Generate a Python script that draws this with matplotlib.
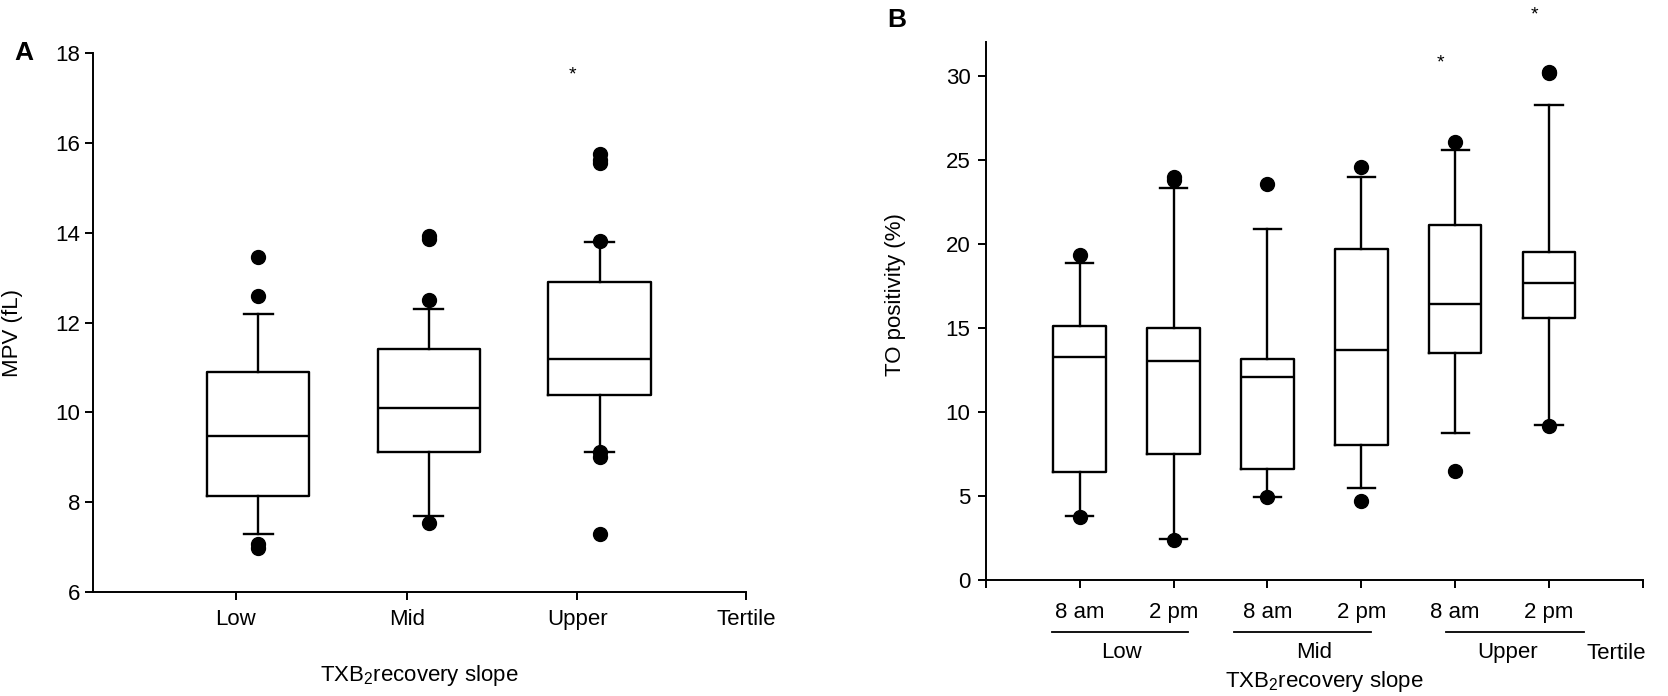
import matplotlib.pyplot as plt

plt.rcParams['font.family'] = ['Liberation Sans', 'DejaVu Sans']
plt.rcParams['font.size'] = 16

# Panel A: MPV (fL) by TXB2 recovery slope tertile
tertiles = ['Low', 'Mid', 'Upper']
mpv_q1 = [8.15, 9.12, 10.4]
mpv_med = [9.48, 10.1, 11.18]
mpv_q3 = [10.9, 11.42, 12.9]
mpv_whislo = [7.3, 7.7, 9.12]
mpv_whishi = [12.2, 12.3, 13.8]
mpv_fliers = [[13.45, 12.6, 7.08, 6.98],
              [13.92, 13.85, 12.5, 7.55],
              [15.75, 15.62, 15.55, 13.82, 9.12, 9.0, 7.3]]
mpv_star = 17.5

# Panel B: TO positivity (%) at 8 am / 2 pm per tertile
times = ['8 am', '2 pm', '8 am', '2 pm', '8 am', '2 pm']
to_q1 = [6.43, 7.5, 6.59, 8.04, 13.49, 15.55]
to_med = [13.25, 13.0, 12.07, 13.65, 16.42, 17.68]
to_q3 = [15.12, 15.0, 13.15, 19.68, 21.13, 19.53]
to_whislo = [3.8, 2.4, 4.95, 5.48, 8.72, 9.22]
to_whishi = [18.87, 23.3, 20.87, 23.95, 25.56, 28.22]
to_fliers = [[19.3, 3.75], [23.95, 23.8, 2.35], [23.53, 4.9],
             [24.56, 4.66], [26.06, 6.48], [30.22, 30.14, 9.14]]
to_star = [30.75, 33.6]  # upper tertile, 8 am and 2 pm


def make_stats(q1, med, q3, lo, hi, fl):
    return [dict(q1=a, med=b, q3=c, whislo=d, whishi=e, fliers=f)
            for a, b, c, d, e, f in zip(q1, med, q3, lo, hi, fl)]


line = dict(color='black', linewidth=1.7)
flier = dict(marker='o', markerfacecolor='black', markeredgecolor='black',
             markersize=10, linestyle='none')
xlab = 'TXB$_\\mathregular{2}$recovery slope'

fig = plt.figure(figsize=(16.68, 6.96), dpi=100)

# ---- A ----
axA = fig.add_axes([0.0555, 0.149, 0.392, 0.775])
posA = [1, 2, 3]
axA.bxp(make_stats(mpv_q1, mpv_med, mpv_q3, mpv_whislo, mpv_whishi, mpv_fliers),
        positions=posA, widths=0.6, capwidths=0.17, manage_ticks=False,
        boxprops=line, whiskerprops=line, capprops=line, medianprops=line,
        flierprops=flier)
axA.set_xlim(0.03, 3.86)
axA.set_ylim(6, 18)
axA.set_yticks(range(6, 19, 2))
axA.set_xticks([p - 0.13 for p in posA] + [3.86], tertiles + ['Tertile'])
axA.tick_params(axis='x', pad=6)
axA.tick_params(axis='y', pad=3)
axA.text(posA[2] - 0.16, mpv_star, '*', ha='center', va='center', fontsize=14)
axA.set_xlabel(xlab, labelpad=24)
axA.set_ylabel('MPV (fL)')
axA.yaxis.set_label_coords(-0.106, 0.48)
axA.text(-0.105, 1.0, 'A', transform=axA.transAxes, fontsize=19,
         fontweight='bold', ha='center', va='center')

# ---- B ----
axB = fig.add_axes([0.591, 0.167, 0.394, 0.7727])
posB = [1, 2, 3, 4, 5, 6]
axB.bxp(make_stats(to_q1, to_med, to_q3, to_whislo, to_whishi, to_fliers),
        positions=posB, widths=0.56, capwidths=0.29, manage_ticks=False,
        boxprops=line, whiskerprops=line, capprops=line, medianprops=line,
        flierprops=flier)
axB.set_xlim(0, 7)
axB.set_ylim(0, 32)
axB.set_yticks(range(0, 31, 5))
axB.set_xticks([0] + posB + [7], [''] + times + [''])
axB.tick_params(axis='x', pad=10)
axB.tick_params(axis='y', pad=5)
for p, y in zip(posB[4:], to_star):
    axB.text(p - 0.16, y, '*', ha='center', va='center', fontsize=14, clip_on=False)

tr = axB.get_xaxis_transform()
group_spans = [(0.7, 2.15), (2.64, 4.1), (4.9, 6.37)]
for i, ((x0, x1), name, off) in enumerate(zip(group_spans, tertiles, [-0.05, 0.0, 0.06])):
    axB.plot([x0, x1], [-0.097, -0.097], color='black', lw=1.3,
             transform=tr, clip_on=False)
    axB.text((posB[2 * i] + posB[2 * i + 1]) / 2 + off, -0.135, name,
             transform=tr, ha='center', va='center')
axB.text(6.72, -0.138, 'Tertile', transform=tr, ha='center', va='center')
axB.text(3.6, -0.19, xlab, transform=tr, ha='center', va='center')
axB.set_ylabel('TO positivity (%)')
axB.yaxis.set_label_coords(-0.122, 0.53)
axB.text(-0.135, 1.04, 'B', transform=axB.transAxes, fontsize=19,
         fontweight='bold', ha='center', va='center')

for ax in (axA, axB):
    ax.spines['top'].set_visible(False)
    ax.spines['right'].set_visible(False)
    ax.spines['left'].set_linewidth(1.4)
    ax.spines['bottom'].set_linewidth(1.4)
    ax.tick_params(direction='out', length=6, width=1.4)

fig.savefig('out.png', dpi=100)
